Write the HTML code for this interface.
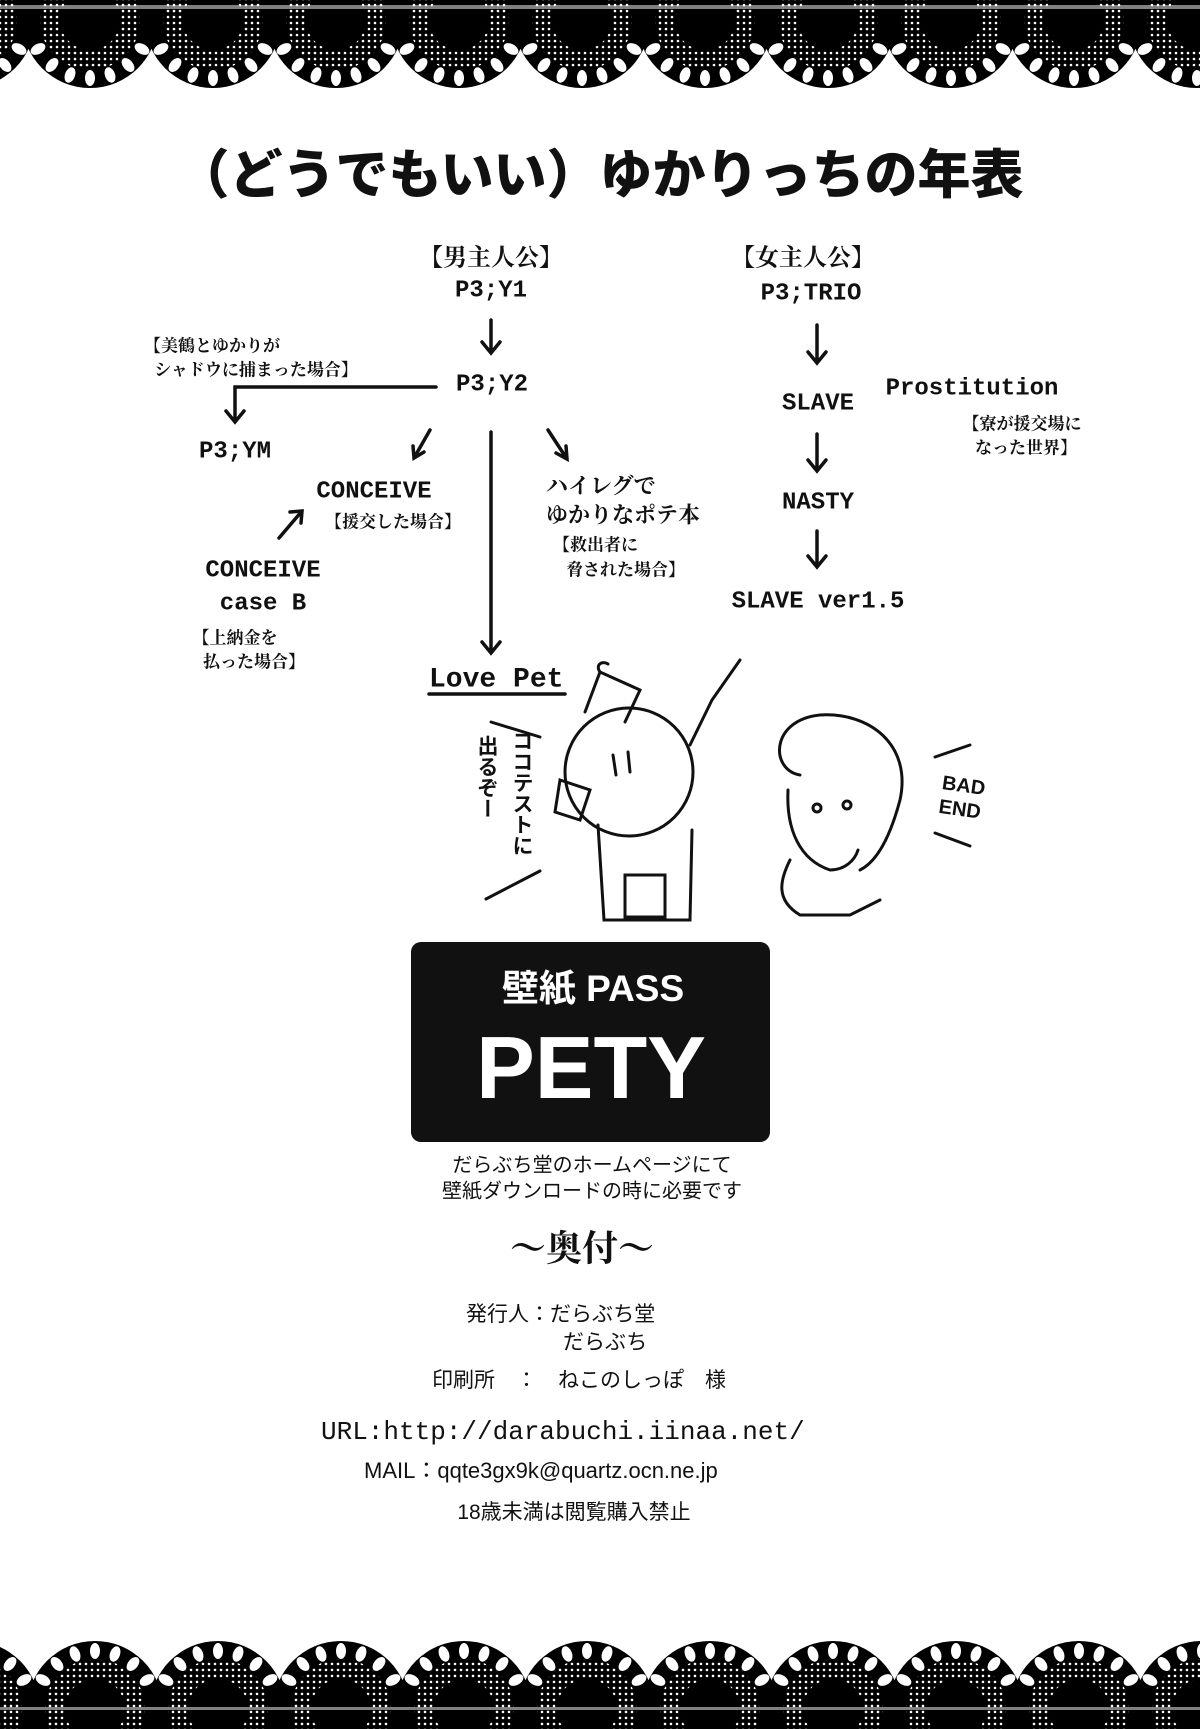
<!DOCTYPE html>
<html><head><meta charset="utf-8"><style>
html,body{margin:0;padding:0;background:#fff}
#p{position:relative;width:1200px;height:1729px;overflow:hidden;background:#fff;font-family:"Liberation Serif","Noto Serif CJK SC","Noto Sans CJK JP",serif;color:#111}
.t{position:absolute;transform:translate(-50%,-50%);white-space:nowrap}
.l{position:absolute;transform:translateY(-50%);white-space:nowrap}
.v{position:absolute;writing-mode:vertical-rl;font-weight:bold;font-size:21px;line-height:24px;font-family:"Liberation Sans","Noto Sans CJK JP",sans-serif}
.b{font-weight:bold}
.m{font-family:"Liberation Mono","Noto Sans CJK JP",monospace;font-weight:bold}
.s{font-family:"Liberation Sans","Noto Sans CJK JP",sans-serif}
</style></head><body><div id="p">
<svg width="1200" height="1729" style="position:absolute;left:0;top:0">
<defs>
<pattern id="dots" width="6" height="6" patternUnits="userSpaceOnUse"><rect width="6" height="6" fill="#000"/><circle cx="3" cy="3" r="1.3" fill="#fff"/></pattern>
<g id="sc">
<circle cx="0" cy="0" r="68" fill="#000"/>
<circle cx="0" cy="0" r="50" fill="url(#dots)"/>
<circle cx="0" cy="0" r="30" fill="#000"/>
<g fill="#fff">
<ellipse cx="0" cy="58" rx="5" ry="8"/><ellipse cx="20" cy="55" rx="5" ry="8" transform="rotate(-20 20 55)"/><ellipse cx="-20" cy="55" rx="5" ry="8" transform="rotate(20 -20 55)"/>
<ellipse cx="38" cy="45" rx="5" ry="8" transform="rotate(-40 38 45)"/><ellipse cx="-38" cy="45" rx="5" ry="8" transform="rotate(40 -38 45)"/>
<ellipse cx="52" cy="29" rx="5" ry="8" transform="rotate(-60 52 29)"/><ellipse cx="-52" cy="29" rx="5" ry="8" transform="rotate(60 -52 29)"/>
</g>
</g>
</defs>
<rect x="0" y="0" width="1200" height="22" fill="#000"/>
<g>
<use href="#sc" x="-33" y="20"/><use href="#sc" x="90" y="20"/><use href="#sc" x="213" y="20"/><use href="#sc" x="336" y="20"/><use href="#sc" x="459" y="20"/><use href="#sc" x="582" y="20"/><use href="#sc" x="705" y="20"/><use href="#sc" x="828" y="20"/><use href="#sc" x="951" y="20"/><use href="#sc" x="1074" y="20"/><use href="#sc" x="1197" y="20"/>
</g>
<rect x="0" y="5" width="1200" height="4" fill="#fff" opacity=".5"/>
<rect x="0" y="1705" width="1200" height="24" fill="#000"/>
<g transform="translate(0,1729) scale(1,-1)">
<use href="#sc" x="-28" y="20"/><use href="#sc" x="95" y="20"/><use href="#sc" x="218" y="20"/><use href="#sc" x="341" y="20"/><use href="#sc" x="464" y="20"/><use href="#sc" x="587" y="20"/><use href="#sc" x="710" y="20"/><use href="#sc" x="833" y="20"/><use href="#sc" x="956" y="20"/><use href="#sc" x="1079" y="20"/><use href="#sc" x="1202" y="20"/>
</g>
<rect x="0" y="1707" width="1200" height="3" fill="#fff" opacity=".5"/>
<g stroke="#111" stroke-width="3.5" fill="none" stroke-linecap="round">
<path d="M491 320V352M482 342L491 353L500 342"/>
<path d="M817 325V362M808 352L817 363L826 352"/>
<path d="M817 434V470M808 460L817 471L826 460"/>
<path d="M817 531V566M808 556L817 567L826 556"/>
<path d="M436 387H235V421M226 411L235 422L244 411"/>
<path d="M430 430L414 458M413 446L414 458L424 452"/>
<path d="M548 430L567 459M566 446L567 459L556 453"/>
<path d="M491 432V652M482 642L491 653L500 642"/>
<path d="M279 538L302 511M290 512L302 511L301 523"/>
<path d="M429 694H565"/>
</g>
<g stroke="#111" stroke-width="3" fill="none" stroke-linecap="round">
<circle cx="629" cy="772" r="64"/>
<path d="M585 712L600 672L640 690L625 722"/><path d="M600 672C595 665 602 660 608 664"/>
<path d="M690 745L712 700L740 660"/>
<path d="M598 825L604 920L690 920L692 830"/>
<rect x="625" y="875" width="40" height="42"/>
<path d="M560 780L590 790L580 820L555 812Z"/>
<path d="M613 755L616 775M628 752L630 772"/>
<path d="M491 722L540 737M486 899L540 871"/>
<path d="M800 775C770 770 770 720 820 715C870 712 912 745 900 800C892 830 880 860 860 870"/>
<path d="M788 790C786 830 800 860 830 870C845 870 855 860 858 850"/>
<path d="M790 860C780 880 775 900 800 915L850 915L880 900"/>
<circle cx="817" cy="808" r="4"/><circle cx="847" cy="805" r="4"/>
<path d="M935 757L970 745M935 833L970 846"/>
</g>
<rect x="411" y="942" width="359" height="200" rx="10" fill="#111"/>
</svg>

<div class="t b" style="left:600px;top:171px;font-size:53px;font-family:'Liberation Sans','Noto Sans CJK JP',sans-serif;font-weight:900">（どうでもいい）ゆかりっちの年表</div>

<div class="t b" style="left:491px;top:255px;font-size:24px">【男主人公】</div>
<div class="t m" style="left:491px;top:291px;font-size:24px">P3;Y1</div>
<div class="t m" style="left:492px;top:385px;font-size:24px">P3;Y2</div>
<div class="t b" style="left:803px;top:255px;font-size:24px">【女主人公】</div>
<div class="t m" style="left:811px;top:294px;font-size:24px">P3;TRIO</div>
<div class="t m" style="left:818px;top:404px;font-size:24px">SLAVE</div>
<div class="t m" style="left:818px;top:503px;font-size:24px">NASTY</div>
<div class="t m" style="left:818px;top:602px;font-size:24px">SLAVE ver1.5</div>
<div class="t m" style="left:972px;top:389px;font-size:24px">Prostitution</div>
<div class="t b" style="left:1022px;top:422px;font-size:17px">【寮が援交場に</div>
<div class="t b" style="left:1026px;top:446px;font-size:17px">なった世界】</div>
<div class="t b" style="left:212px;top:344px;font-size:17px">【美鶴とゆかりが</div>
<div class="t b" style="left:256px;top:368px;font-size:17px">シャドウに捕まった場合】</div>
<div class="t m" style="left:235px;top:452px;font-size:24px">P3;YM</div>
<div class="t m" style="left:374px;top:492px;font-size:24px">CONCEIVE</div>
<div class="t b" style="left:393px;top:520px;font-size:17px">【援交した場合】</div>
<div class="l b" style="left:546px;top:485px;font-size:22px">ハイレグで</div>
<div class="l b" style="left:546px;top:514px;font-size:22px">ゆかりなポテ本</div>
<div class="l b" style="left:553px;top:543px;font-size:17px">【救出者に</div>
<div class="l b" style="left:566px;top:568px;font-size:17px">脅された場合】</div>
<div class="t m" style="left:263px;top:571px;font-size:24px">CONCEIVE</div>
<div class="t m" style="left:263px;top:604px;font-size:24px">case B</div>
<div class="t b" style="left:235px;top:636px;font-size:17px">【上納金を</div>
<div class="t b" style="left:254px;top:660px;font-size:17px">払った場合】</div>
<div class="l m" style="left:429px;top:680px;font-size:28px">Love Pet</div>
<div class="v" style="left:509px;top:730px">ココテストに</div>
<div class="v" style="left:474px;top:735px">出るぞー</div>
<div class="t b s" style="left:962px;top:798px;font-size:20px;line-height:24px;transform:translate(-50%,-50%) rotate(8deg)">BAD<br>END</div>

<div class="t b s" style="left:593px;top:985px;font-size:37px;color:#fff">壁紙 PASS</div>
<div class="t b s" style="left:591px;top:1068px;font-size:88px;color:#fff">PETY</div>
<div class="t s" style="left:592px;top:1163px;font-size:20px">だらぶち堂のホームページにて</div>
<div class="t s" style="left:592px;top:1189px;font-size:20px">壁紙ダウンロードの時に必要です</div>
<div class="t b" style="left:582px;top:1246px;font-size:36px">～奥付～</div>
<div class="l s" style="left:466px;top:1313px;font-size:21px">発行人：だらぶち堂</div>
<div class="l s" style="left:563px;top:1341px;font-size:21px">だらぶち</div>
<div class="l s" style="left:432px;top:1379px;font-size:21px">印刷所　：　ねこのしっぽ　様</div>
<div class="l" style="left:321px;top:1432px;font-size:26px;font-family:'Liberation Mono',monospace">URL:http://darabuchi.iinaa.net/</div>
<div class="l s" style="left:364px;top:1469px;font-size:22px">MAIL：qqte3gx9k@quartz.ocn.ne.jp</div>
<div class="t s" style="left:574px;top:1511px;font-size:21px">18歳未満は閲覧購入禁止</div>
</div></body></html>
